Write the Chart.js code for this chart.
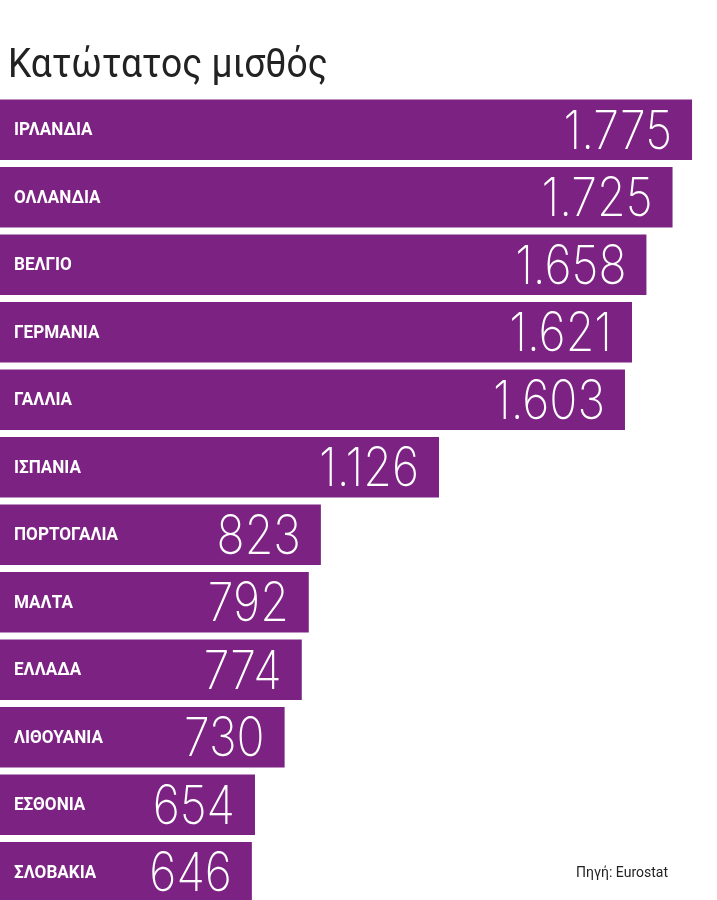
<!DOCTYPE html>
<html>
<head>
<meta charset="utf-8">
<script src="https://cdn.jsdelivr.net/npm/chart.js@4/dist/chart.umd.min.js"></script>
<style>
  body { margin: 0; background: #fff; overflow: hidden; }
  #wrap { position: relative; width: 717px; height: 906px; }
  h1 { position: absolute; left: 8px; top: 40px; margin: 0; font: 400 40px "Roboto", sans-serif; color: #222; transform: scaleX(0.93); transform-origin: left top; }
  #src { position: absolute; right: 49px; top: 864px; font: 14px "Roboto", sans-serif; color: #222; }
</style>
</head>
<body>
<div id="wrap">
  <h1>Κατώτατος μισθός</h1>
  <canvas id="chart" width="717" height="906"></canvas>
  <div id="src">Πηγή: Eurostat</div>
</div>
<script>
const countries = ["ΙΡΛΑΝΔΙΑ", "ΟΛΛΑΝΔΙΑ", "ΒΕΛΓΙΟ", "ΓΕΡΜΑΝΙΑ", "ΓΑΛΛΙΑ", "ΙΣΠΑΝΙΑ",
  "ΠΟΡΤΟΓΑΛΙΑ", "ΜΑΛΤΑ", "ΕΛΛΑΔΑ", "ΛΙΘΟΥΑΝΙΑ", "ΕΣΘΟΝΙΑ", "ΣΛΟΒΑΚΙΑ"];
const wages = [1775, 1725, 1658, 1621, 1603, 1126, 823, 792, 774, 730, 654, 646];

// country name on the left, big value near the bar end
const barText = {
  id: "barText",
  afterDatasetsDraw(chart) {
    const ctx = chart.ctx;
    const meta = chart.getDatasetMeta(0);
    ctx.save();
    ctx.fillStyle = "#fff";
    ctx.textBaseline = "middle";
    meta.data.forEach((bar, i) => {
      ctx.save();
      ctx.translate(14, bar.y + 1);
      ctx.scale(0.95, 1);
      ctx.font = "bold 18px 'Roboto', sans-serif";
      ctx.textAlign = "left";
      ctx.fillText(countries[i], 0, 0);
      ctx.restore();

      ctx.save();
      ctx.translate(bar.x - 20, bar.y + 3);
      ctx.scale(0.86, 1);
      ctx.font = "200 54px 'Inter', 'Roboto', sans-serif";
      ctx.textAlign = "right";
      ctx.fillText(wages[i].toLocaleString("de-DE"), 0, 0);
      ctx.restore();
    });
    ctx.restore();
  }
};

new Chart(document.getElementById("chart"), {
  type: "bar",
  data: {
    labels: countries,
    datasets: [{ data: wages, backgroundColor: "#7b2282", barPercentage: 0.895, categoryPercentage: 1 }]
  },
  options: {
    indexAxis: "y",
    responsive: false,
    animation: false,
    layout: { padding: { top: 96, left: 0, right: 0, bottom: 0 } },
    scales: {
      x: { display: false, min: 0, max: 1839 },
      y: { display: false }
    },
    plugins: { legend: { display: false }, tooltip: { enabled: false } }
  },
  plugins: [barText]
});
</script>
</body>
</html>
